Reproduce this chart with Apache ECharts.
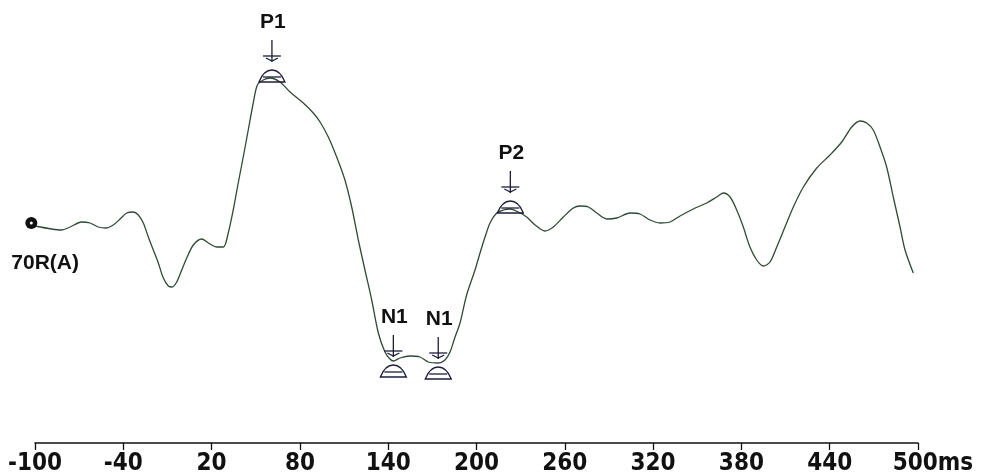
<!DOCTYPE html>
<html><head><meta charset="utf-8">
<script src="https://cdn.jsdelivr.net/npm/echarts@6/dist/echarts.min.js"></script>
<style>html,body{margin:0;padding:0;background:#fff}#c{width:988px;height:476px}</style>
</head><body><div id="c"></div>
<script>
// ---- data (time in ms, amplitude in arbitrary µV units) ----
const timesMs = [-100,-88.7,-81.9,-76.2,-68.3,-62.6,-57.0,-51.8,-46.8,-42.2,-37.7,-33.2,-29.8,-26.4,-23.0,-19.6,-16.2,-12.8,-9.4,-6.9,-3.7,-0.3,3.1,7.6,13.3,17.8,23.5,28.0,31.3,34.7,38.1,41.5,44.9,48.3,51.1,55.1,59.7,66.5,73.3,82.3,89.1,93.7,99.3,105.0,110.6,115.2,119.7,124.2,128.8,133.3,137.8,141.2,143.5,148.0,154.8,161.6,167.3,174.0,178.6,182.0,185.4,188.8,193.3,199.0,202.4,205.8,209.2,213.7,218.2,222.8,228.4,234.1,239.8,246.5,252.2,259.0,265.8,270.3,276.0,281.7,288.5,295.3,304.3,311.1,317.9,324.7,331.5,338.3,347.3,356.4,363.2,367.7,372.3,376.8,381.3,385.8,390.4,394.9,399.4,404.0,409.6,415.3,422.1,431.2,440.2,448.2,455.0,460.6,465.1,469.6,474.2,478.7,483.2,487.8,491.2,496.8];
const amplitude = [0.4,0.1,0.0,0.3,0.8,0.7,0.3,0.2,0.5,1.1,1.7,1.8,1.5,0.7,-0.7,-2.0,-3.3,-4.8,-5.6,-5.7,-5.2,-4.0,-2.8,-1.5,-0.9,-1.3,-1.7,-1.7,-0.3,2.0,4.7,7.3,10.0,12.7,14.5,15.0,15.2,14.8,13.8,12.7,11.7,10.8,9.3,7.3,5.0,2.3,-1.0,-4.0,-7.0,-10.3,-12.2,-12.9,-13.1,-12.8,-12.6,-12.7,-13.2,-13.3,-13.0,-12.2,-10.7,-9.3,-6.5,-4.0,-2.3,-0.7,0.7,1.7,2.0,2.1,1.8,1.3,0.5,-0.1,0.3,1.3,2.2,2.4,2.3,1.7,1.1,1.2,1.7,1.6,1.0,0.7,0.8,1.4,2.1,2.7,3.3,3.7,3.3,2.0,0.3,-1.7,-3.0,-3.6,-3.2,-1.7,0.3,2.3,4.3,6.2,7.5,8.8,10.3,10.9,10.7,10.0,8.3,6.3,3.3,0.3,-2.0,-4.3];
const tickLabels = [-100,-40,20,80,140,200,260,320,380,440,500];
const peakNames = ['P1','N1','N1','P2'];
const peakTimes = [61, 143.5, 174, 223];
const peakValues = [15.2, -13.1, -13.3, 2.1];
const channelLabel = '70R(A)';
const startDot = [-102.5, 0.7];
const unitLabel = 'ms';

// ---- chart ----
const chart = echarts.init(document.getElementById('c'), null, {renderer: 'canvas'});
const traceData = timesMs.map((t, i) => [t, amplitude[i]]);
const peakData = peakTimes.map((t, i) => [t, peakValues[i], peakNames[i].charAt(0) === 'N' ? 1 : 0]);
const axisFont = "'Liberation Sans Narrow','DejaVu Sans Condensed','Liberation Sans',sans-serif";
const ink = '#1d1d3a';

function renderPeak(params, api) {
  const p = api.coord([api.value(0), api.value(1)]);
  const s = api.value(2) ? 12 : 0;
  const x = p[0], y = p[1] + s;
  const name = peakNames[params.dataIndex];
  const st = {stroke: ink, lineWidth: 1.3, fill: null};
  return {
    type: 'group',
    children: [
      {type: 'text', style: {text: name, x: x + 1, y: y - 56, align: 'center', verticalAlign: 'middle',
        font: "bold 21px 'Liberation Sans', Arial, sans-serif", fill: '#111'}},
      {type: 'line', shape: {x1: x, y1: y - 38, x2: x, y2: y - 16}, style: st},
      {type: 'line', shape: {x1: x - 9, y1: y - 22, x2: x + 9, y2: y - 22}, style: st},
      {type: 'polyline', shape: {points: [[x - 6, y - 20], [x, y - 17], [x + 6, y - 20]]}, style: st},
      {type: 'path', shape: {pathData: `M${x - 13} ${y + 4} C${x - 9} ${y - 6} ${x - 4} ${y - 8} ${x} ${y - 8} C${x + 4} ${y - 8} ${x + 9} ${y - 6} ${x + 13} ${y + 4} Z`},
        style: {stroke: ink, lineWidth: 1.3, fill: null}},
      {type: 'line', shape: {x1: x - 9, y1: y - 1, x2: x + 9, y2: y - 1}, style: st}
    ]
  };
}

chart.setOption({
  animation: false,
  backgroundColor: '#ffffff',
  grid: {left: 35, right: 70, top: 30, bottom: 46},
  xAxis: {
    type: 'value', min: -100, max: 500, interval: 60, offset: 13,
    axisLine: {show: true, onZero: false, lineStyle: {color: '#111', width: 1.5}},
    axisTick: {show: true, length: 7, lineStyle: {color: '#111', width: 1.3}},
    splitLine: {show: false},
    axisLabel: {
      show: true, margin: 9, showMinLabel: true, showMaxLabel: true,
      fontFamily: axisFont, fontWeight: 'bold', fontSize: 24, color: '#111',
      formatter: v => v === 500 ? '{sp|}' + v + '{u|' + unitLabel + '}' : String(v),
      rich: {sp: {width: 30}, u: {fontFamily: axisFont, fontWeight: 'bold', fontSize: 24, color: '#111'}}
    }
  },
  yAxis: {type: 'value', min: -20, max: 20, show: false},
  series: [
    {type: 'line', data: traceData, smooth: 0.3, symbol: 'none',
      lineStyle: {color: '#2f4a36', width: 1.3}, z: 2},
    {type: 'custom', data: peakData, renderItem: renderPeak, z: 3, clip: false},
    {type: 'scatter', data: [startDot], symbol: 'circle', symbolSize: 12, clip: false,
      itemStyle: {color: '#111', opacity: 1}, z: 4,
      label: {show: true, formatter: channelLabel, position: [-14, 36], align: 'left', verticalAlign: 'top',
        fontFamily: "'Liberation Sans', Arial, sans-serif", fontWeight: 'bold', fontSize: 21, color: '#111'}},
    {type: 'scatter', data: [startDot], symbol: 'circle', symbolSize: 3, clip: false,
      itemStyle: {color: '#fff', opacity: 1}, z: 5, silent: true}
  ]
});
</script>
</body></html>
